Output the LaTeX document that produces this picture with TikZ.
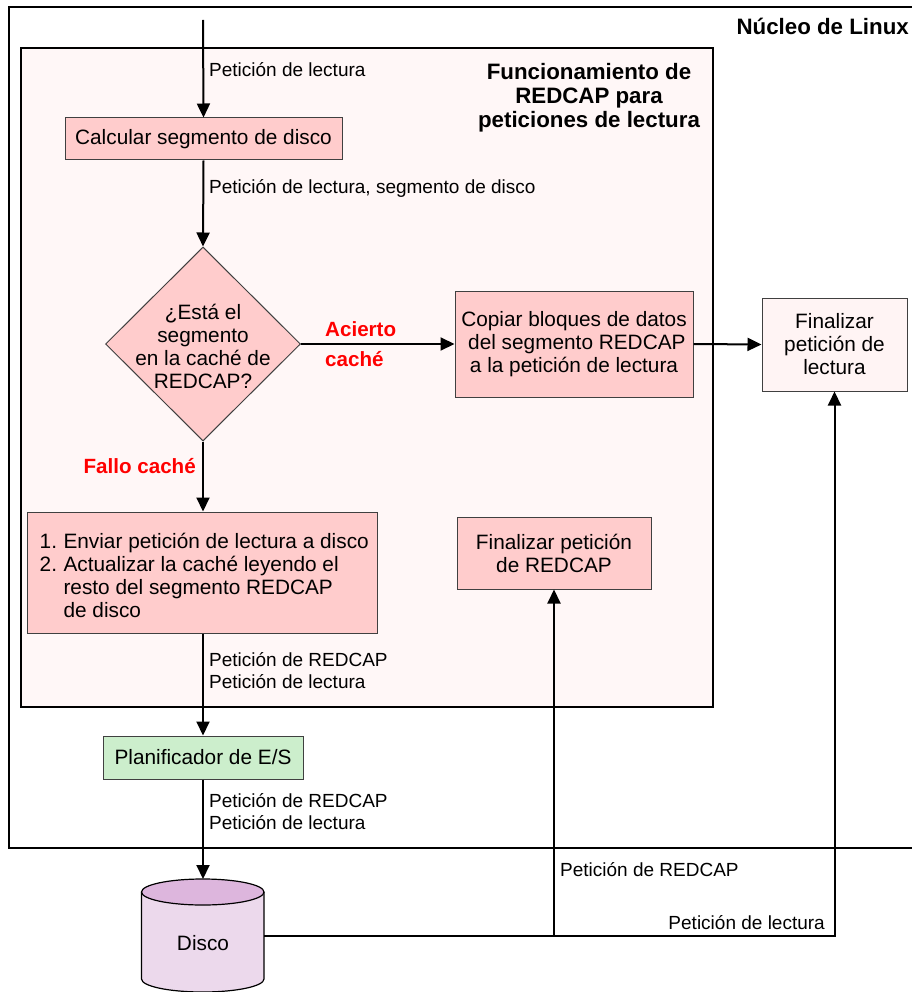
\documentclass[tikz,border=0pt]{standalone}
\usepackage{fontspec}
\setmainfont{Liberation Sans}
\usetikzlibrary{shapes.geometric,arrows.meta}
\definecolor{boxpink}{HTML}{FFCCCC}
\definecolor{palepink}{HTML}{FFF7F7}
\definecolor{endpink}{HTML}{FFF4F4}
\definecolor{iogreen}{HTML}{CCEECC}
\definecolor{disktopc}{HTML}{DDB6DD}
\definecolor{diskbody}{HTML}{ECD9EC}
\definecolor{edgegray}{HTML}{404040}
\definecolor{alertred}{HTML}{FF0000}
\tikzset{
  boxtext/.style={font=\fontsize{20.8}{23}\selectfont},
  procbox/.style={draw=edgegray, line width=1pt, fill=boxpink, boxtext, align=center, inner sep=0pt},
  endbox/.style={procbox, fill=endpink},
  iobox/.style={procbox, fill=iogreen},
  flow/.style={line width=2pt, -{Triangle[length=14pt,width=13pt]}},
  lbl/.style={font=\fontsize{19}{22}\selectfont, align=left, inner sep=0pt},
  hitlbl/.style={font=\fontsize{20.6}{30}\selectfont\bfseries, text=alertred, align=left, inner sep=0pt},
  heading/.style={font=\fontsize{22.3}{24}\selectfont\bfseries, align=center, inner sep=0pt},
}
\begin{document}
\begin{tikzpicture}[x=1pt,y=-1pt]
\useasboundingbox (0,0) rectangle (911,992);

% Kernel frame (open to the right) and REDCAP area
\draw[line width=1.5pt] (930,7) -- (9,7) -- (9,848) -- (930,848);
\node[heading, anchor=east] (kernel) at (909,26) {Núcleo de Linux};
\draw[line width=1.5pt, fill=palepink] (21,48) rectangle (713,707);
\node[heading] (redcap) at (589,98) {Funcionamiento de\\REDCAP para\\peticiones de lectura};

% Process steps
\node[procbox, minimum width=277, minimum height=42] (calc) at (203.5,139) {Calcular segmento de disco};
\node[diamond, draw=edgegray, line width=1pt, fill=boxpink, minimum width=195, minimum height=194, inner sep=0pt] (q) at (203,344) {};
\node[boxtext, align=center] (qtext) at (203,346) {¿Está el\\segmento\\en la caché de\\REDCAP?};
\node[procbox, minimum width=238, minimum height=106] (copy) at (574,344) {Copiar bloques de datos\\\ del segmento REDCAP\\a la petición de lectura};
\node[endbox, minimum width=145, minimum height=93] (finL) at (834.5,344.5) {Finalizar\\petición de\\lectura};
\node[procbox, minimum width=350, minimum height=121] (env) at (202,572.5) {};
\node[boxtext, anchor=west, inner sep=0pt] (envtext) at (39.5,578) {%
  \begin{tabular}{@{}l@{\hspace{6.5pt}}l@{}}
  1. & Enviar petición de lectura a disco\\
  2. & Actualizar la caché leyendo el\\
     & resto del segmento REDCAP\\
     & de disco
  \end{tabular}};
\node[procbox, minimum width=194, minimum height=72] (finR) at (554,553) {Finalizar petición\\de REDCAP};
\node[iobox, minimum width=200, minimum height=43] (plan) at (203,757.5) {Planificador de E/S};

% Disk cylinder
\fill[diskbody] (141.5,892) -- (141.5,979) arc[start angle=180, end angle=0, x radius=61.25, y radius=13] -- (264,892) -- cycle;
\draw[line width=1.2pt] (141.5,892) -- (141.5,979) arc[start angle=180, end angle=0, x radius=61.25, y radius=13] -- (264,892);
\draw[line width=1.2pt, fill=disktopc] (202.75,892) ellipse[x radius=61.25, y radius=13];
\node[boxtext] (disk) at (203,943) {Disco};
\coordinate (disktop) at (203,879);
\coordinate (diskeast) at (264,936);
\coordinate (start) at (203,20);
\coordinate (split) at (554,936);

% Connectors
\draw[flow] (start) -- (calc.north);
\draw[flow] (calc.south) -- (q.north);
\draw[flow] (q.east) -- (copy.west);
\draw[flow] (copy.east) -- (finL.west);
\draw[flow] (q.south) -- (q.south |- env.north);
\draw[flow] (q.south |- env.south) -- (plan.north);
\draw[flow] (plan.south) -- (disktop);
\draw[flow] (diskeast) -| (finL.south);
\draw[flow] (split) -- (finR.south);

% Connector labels
\node[lbl, anchor=west] (l1) at (209,70) {Petición de lectura};
\node[lbl, anchor=west] (l2) at (209,188) {Petición de lectura, segmento de disco};
\node[hitlbl, anchor=west] (hit) at (325,344) {Acierto\\caché};
\node[hitlbl, anchor=east] (miss) at (196,466) {Fallo caché};
\node[lbl, anchor=west] (l3) at (209,671) {Petición de REDCAP\\Petición de lectura};
\node[lbl, anchor=west] (l4) at (209,812) {Petición de REDCAP\\Petición de lectura};
\node[lbl, anchor=west] (l5) at (560,870) {Petición de REDCAP};
\node[lbl, anchor=east] (l6) at (825,923) {Petición de lectura};
\end{tikzpicture}
\end{document}
